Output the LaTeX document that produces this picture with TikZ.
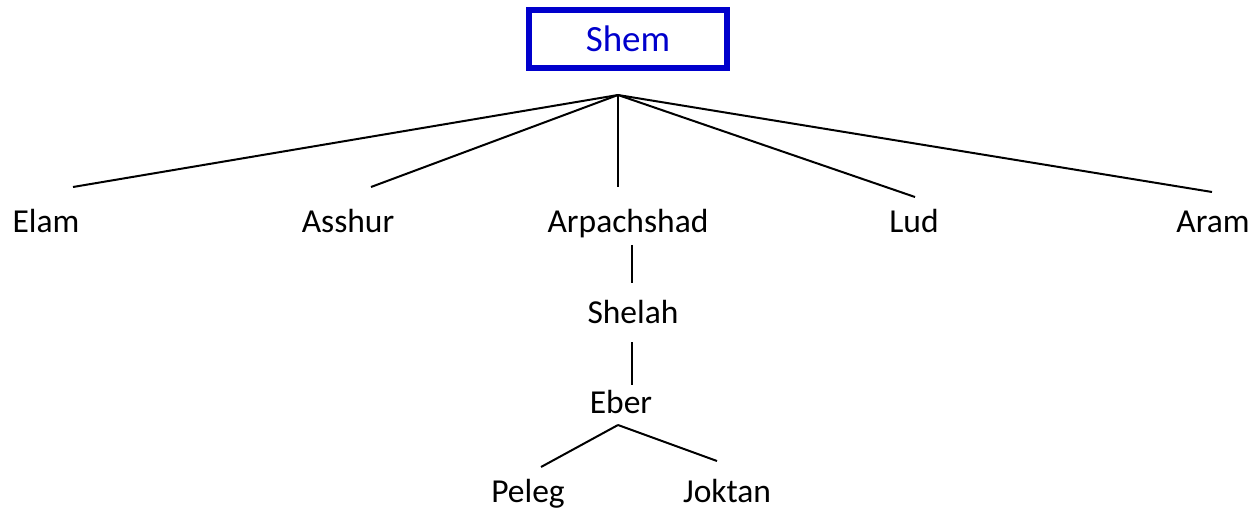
\documentclass[tikz,border=0pt]{standalone}
\usepackage{fontspec}
\setmainfont{Carlito}
\definecolor{shemblue}{RGB}{0,0,204}
\newcommand{\famfont}{\fontsize{33.5}{38}\selectfont}
\newcommand{\rootfont}{\fontsize{37}{42}\selectfont}
\begin{document}
\begin{tikzpicture}[x=1pt,y=-1pt,
    person/.style={inner sep=0pt,outer sep=0pt,anchor=base,font=\famfont},
    root/.style={draw=shemblue,line width=6pt,text=shemblue,font=\rootfont,minimum width=198pt,minimum height=58pt,inner sep=0pt},
    link/.style={line width=2pt}]
    \useasboundingbox (0,0) rectangle (1256,513);

    \node[root] (shem) at (628,39) {Shem};
    \coordinate (fork) at (618,95);

    \node[person] (elam) at (46,233) {Elam};
    \node[person] (asshur) at (348,233) {Asshur};
    \node[person] (arpachshad) at (628,233) {Arpachshad};
    \node[person] (lud) at (914,233) {Lud};
    \node[person] (aram) at (1213,233) {Aram};

    \node[person] (shelah) at (633,323) {Shelah};
    \node[person] (eber) at (621,413) {Eber};

    \node[person] (peleg) at (528,502) {Peleg};
    \node[person] (joktan) at (727,502) {Joktan};

    % line ends above and below the names
    \coordinate (elamtop) at (73,187);
    \coordinate (asshurtop) at (371,187);
    \coordinate (arpachshadtop) at (618,187);
    \coordinate (ludtop) at (915,197);
    \coordinate (aramtop) at (1212,192);
    \coordinate (arpachshadfoot) at (632,245);
    \coordinate (shelahtop) at (632,283);
    \coordinate (shelahfoot) at (632,342);
    \coordinate (ebertop) at (632,385);
    \coordinate (eberfork) at (618,425);
    \coordinate (pelegtop) at (541,467);
    \coordinate (joktantop) at (717,461);

    \draw[link] (fork) -- (elamtop);
    \draw[link] (fork) -- (asshurtop);
    \draw[link] (fork) -- (arpachshadtop);
    \draw[link] (fork) -- (ludtop);
    \draw[link] (fork) -- (aramtop);

    \draw[link] (arpachshadfoot) -- (shelahtop);
    \draw[link] (shelahfoot) -- (ebertop);

    \draw[link] (eberfork) -- (pelegtop);
    \draw[link] (eberfork) -- (joktantop);
  \end{tikzpicture}
\end{document}
